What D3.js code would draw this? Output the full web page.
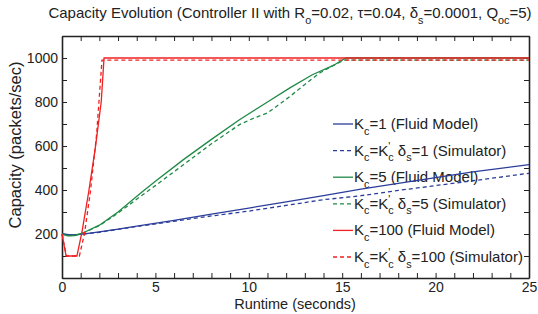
<!DOCTYPE html>
<html>
<head>
<meta charset="utf-8">
<script src="https://cdn.jsdelivr.net/npm/d3@7"></script>
<style>
  body { margin: 0; background: #fff; }
  svg { font-family: "Liberation Sans", Arial, sans-serif; }
</style>
</head>
<body>
<svg id="chart"></svg>
<script>
// values (time in seconds, capacity in packets/sec)
var blueFluidT   = [0, 0.5, 1, 2, 3, 4, 6, 8, 10, 12, 14, 16, 18, 20, 22, 25]
var blueFluidV   = [200, 196, 198, 210, 222, 236, 262, 290, 318, 346, 374, 404, 430, 456, 482, 515]
var blueSimT     = [0, 0.5, 1, 2, 4, 6, 8, 10, 12, 14, 16, 18, 20, 22, 25]
var blueSimV     = [200, 196, 198, 208, 234, 258, 282, 304, 330, 356, 374, 398, 420, 442, 476]

var greenFluidT  = [0, 0.3, 0.7, 1.2, 2, 3, 4.2, 5, 6.5, 8, 9.5, 11, 12.2, 13.4, 14.5, 15.2, 25]
var greenFluidV  = [200, 192, 193, 208, 240, 300, 385, 440, 538, 630, 719, 800, 864, 924, 965, 1000, 1000]
var greenSimT    = [0, 0.3, 0.7, 1.2, 2, 3, 4.2, 5, 6.5, 8, 9.5, 10.3, 11, 12.2, 13, 13.8, 14.5, 15.1, 25]
var greenSimV    = [200, 193, 194, 207, 238, 295, 371, 420, 515, 610, 697, 728, 750, 825, 880, 932, 965, 990, 990]

var redFluidT    = [0, 0.22, 0.8, 1.07, 1.43, 1.78, 2.1, 2.25, 25]
var redFluidV    = [200, 100, 100, 210, 392, 589, 801, 1000, 1000]
var redSimT      = [0, 0.24, 0.93, 1.2, 1.52, 1.85, 2.14, 25]
var redSimV      = [200, 100, 100, 200, 392, 650, 990, 990]

var xTicks = d3.range(0, 26, 1)
var xLabels = [0, 5, 10, 15, 20, 25]
var yTicks = d3.range(0, 1101, 100)
var yLabels = [200, 400, 600, 800, 1000]

var width = 538
var height = 314
var margin = {top: 36, right: 9, bottom: 36, left: 62}

var svg = d3.select("#chart")
  .attr("width", width)
  .attr("height", height)

var xScale = d3.scaleLinear()
  .domain([0, 25])
  .range([margin.left, width - margin.right])

var yScale = d3.scaleLinear()
  .domain([0, 1100])
  .range([height - margin.bottom, margin.top])

// text with sub/superscripts; parts are [text, mode, dx]
function richText(sel, parts, size) {
  var shift = 0
  parts.forEach(function(p){
    var t = p[0], mode = p[1] || "n"
    var target = mode == "sub" ? size*0.38 : mode == "sup" ? -size*0.38 : 0
    var ts = sel.append("tspan")
      .attr("dy", target - shift)
      .style("font-size", mode == "n" ? size + "px" : (size*0.72) + "px")
      .text(t)
    if (p[2]) ts.attr("dx", p[2])
    shift = target
  })
  if (shift != 0) sel.append("tspan").attr("dy", -shift).text("")
}

// title
var title = svg.append("text")
  .attr("x", 290)
  .attr("y", 18)
  .attr("text-anchor", "middle")
  .attr("fill", "#222")
richText(title, [["Capacity Evolution (Controller II with R"], ["o", "sub"], ["=0.02, \u03c4=0.04, \u03b4"],
  ["s", "sub"], ["=0.0001, Q"], ["oc", "sub"], ["=5)"]], 15)

// axes with inward ticks
var xAxisGen = d3.axisBottom(xScale).tickValues(xTicks).tickSizeInner(-5).tickSizeOuter(0)
  .tickPadding(4).tickFormat(d => xLabels.indexOf(d) >= 0 ? d : "")
var xAxis = svg.append("g")
  .attr("transform", `translate(0,${height - margin.bottom})`)
  .call(xAxisGen)

var xTopGen = d3.axisTop(xScale).tickValues(xTicks).tickSizeInner(-5).tickSizeOuter(0).tickFormat("")
svg.append("g")
  .attr("transform", `translate(0,${margin.top})`)
  .call(xTopGen)

var yAxisGen = d3.axisLeft(yScale).tickValues(yTicks).tickSizeInner(-5).tickSizeOuter(0)
  .tickPadding(4).tickFormat(d => yLabels.indexOf(d) >= 0 ? d : "")
svg.append("g")
  .attr("transform", `translate(${margin.left},0)`)
  .call(yAxisGen)

var yRightGen = d3.axisRight(yScale).tickValues(yTicks).tickSizeInner(-5).tickSizeOuter(0).tickFormat("")
svg.append("g")
  .attr("transform", `translate(${width - margin.right},0)`)
  .call(yRightGen)

svg.selectAll(".domain").attr("stroke", "#222").attr("stroke-width", 1.6)
svg.selectAll(".tick line").attr("stroke", "#222").attr("stroke-width", 1)
svg.selectAll(".tick text").style("font-size", "14px").attr("fill", "#222")
  .style("font-family", "Liberation Sans, Arial, sans-serif")

// axis labels
svg.append("text")
  .attr("x", 295)
  .attr("y", 309)
  .attr("text-anchor", "middle")
  .style("font-size", "14.5px")
  .attr("fill", "#222")
  .text("Runtime (seconds)")

svg.append("text")
  .attr("transform", "rotate(-90)")
  .attr("x", -145)
  .attr("y", 21)
  .attr("text-anchor", "middle")
  .style("font-size", "16.5px")
  .attr("fill", "#222")
  .text("Capacity (packets/sec)")

// legend
var blue = "#2b3d9a", green = "#1f8a46", red = "#f02020"
var legendItems = [
  {color: blue, dash: null, parts: [["K"], ["c", "sub"], ["=1 (Fluid Model)"]]},
  {color: blue, dash: "4,3", parts: [["K"], ["c", "sub"], ["=K"], ["'", "sup"], ["c", "sub", -2], [" \u03b4"], ["s", "sub"], ["=1 (Simulator)"]]},
  {color: green, dash: null, parts: [["K"], ["c", "sub"], ["=5 (Fluid Model)"]]},
  {color: green, dash: "4,3", parts: [["K"], ["c", "sub"], ["=K"], ["'", "sup"], ["c", "sub", -2], [" \u03b4"], ["s", "sub"], ["=5 (Simulator)"]]},
  {color: red, dash: null, parts: [["K"], ["c", "sub"], ["=100 (Fluid Model)"]]},
  {color: red, dash: "4,3", parts: [["K"], ["c", "sub"], ["=K"], ["'", "sup"], ["c", "sub", -2], [" \u03b4"], ["s", "sub"], ["=100 (Simulator)"]]}
]

var legend = svg.selectAll(".legend")
  .data(legendItems)
  .enter().append("g")
  .attr("class", "legend")
  .attr("transform", (d, i) => `translate(333,${124 + i*26.6})`)

legend.append("line")
  .attr("x1", 0).attr("x2", 20)
  .attr("y1", 0).attr("y2", 0)
  .attr("stroke", d => d.color)
  .attr("stroke-width", 1.3)
  .attr("stroke-dasharray", d => d.dash)

legend.each(function(d){
  var t = d3.select(this).append("text")
    .attr("x", 21)
    .attr("y", 5)
    .attr("fill", "#222")
  richText(t, d.parts, 15)
})

// curves
var series = [
  {t: blueFluidT, v: blueFluidV, color: blue, dash: null},
  {t: blueSimT, v: blueSimV, color: blue, dash: "4,3"},
  {t: greenFluidT, v: greenFluidV, color: green, dash: null},
  {t: greenSimT, v: greenSimV, color: green, dash: "4,3"},
  {t: redSimT, v: redSimV, color: red, dash: "4,3"},
  {t: redFluidT, v: redFluidV, color: red, dash: null}
]

var lineGen = d3.line()
  .x(d => xScale(d[0]))
  .y(d => yScale(d[1]))

svg.selectAll(".curve")
  .data(series)
  .enter().append("path")
  .attr("class", "curve")
  .attr("fill", "none")
  .attr("stroke", d => d.color)
  .attr("stroke-width", 1.3)
  .attr("stroke-dasharray", d => d.dash)
  .attr("d", d => lineGen(d.t.map((t, i) => [t, d.v[i]])))
</script>
</body>
</html>
